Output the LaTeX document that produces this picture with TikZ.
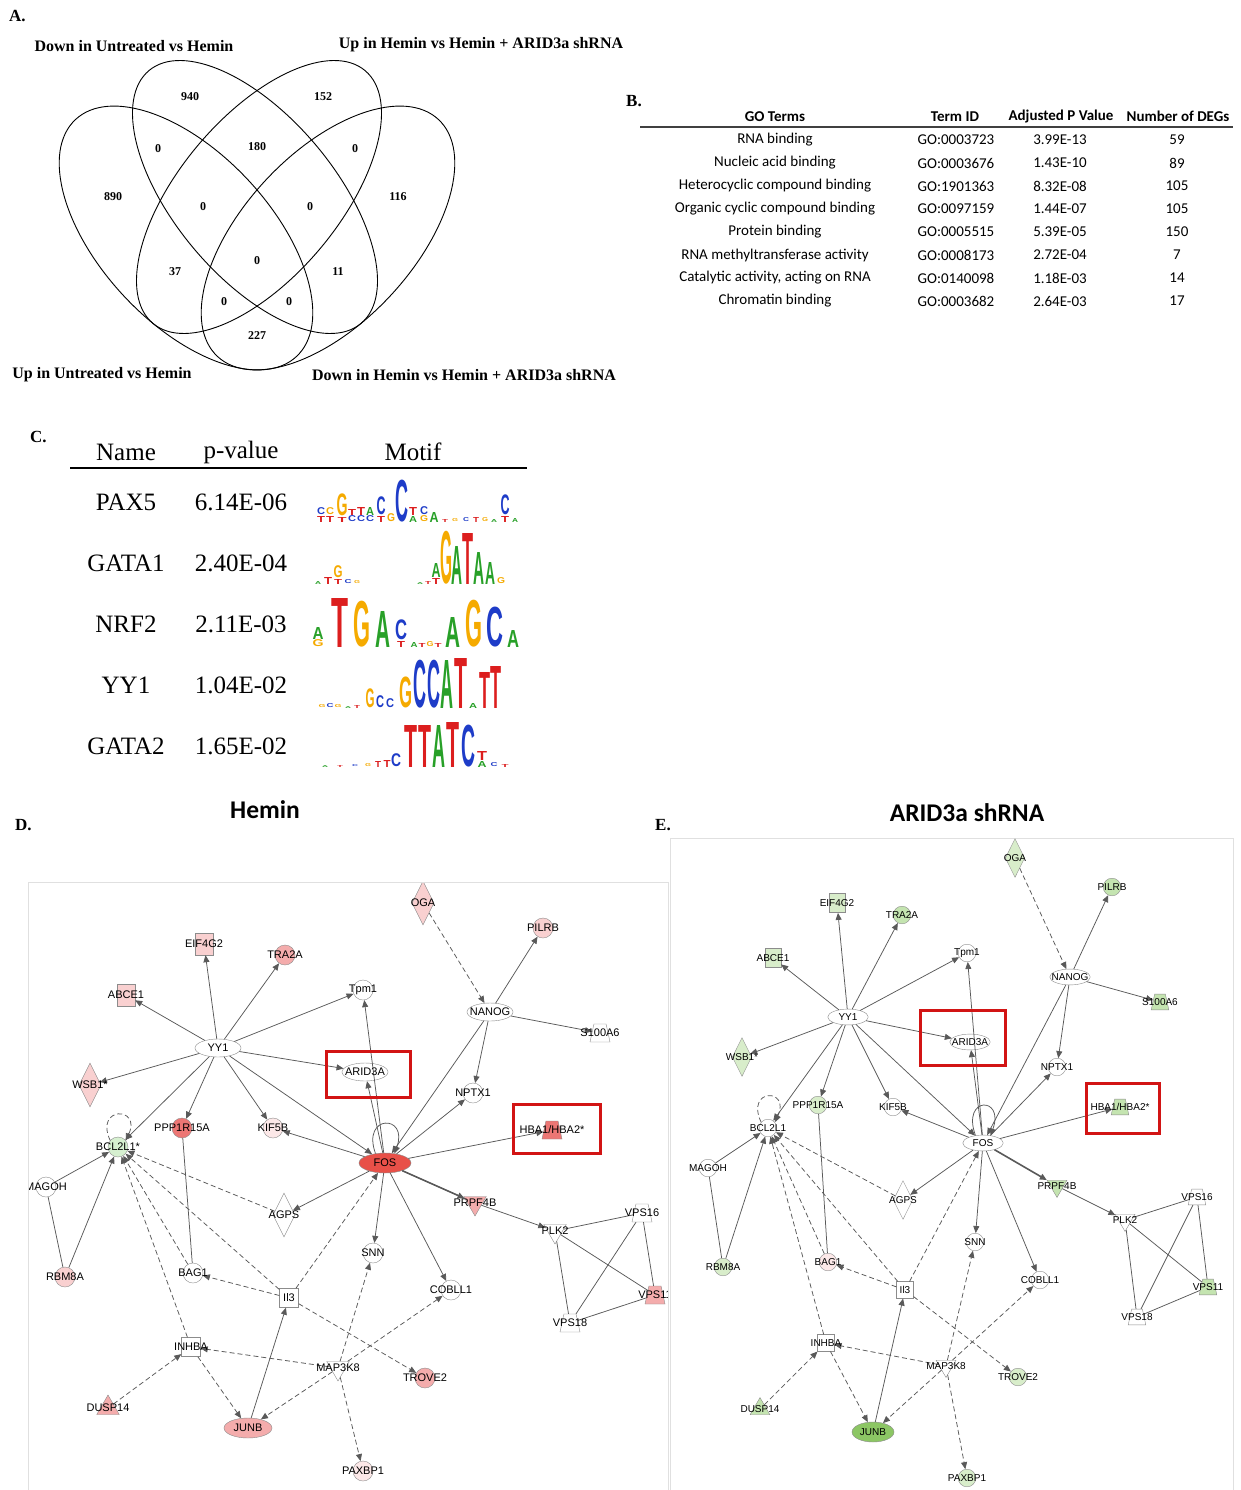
\documentclass[tikz,border=0pt]{standalone}
\usepackage{fontspec}
\usepackage{graphicx}
\setmainfont{Liberation Serif}
\setsansfont{Liberation Sans}
\newfontfamily\calfont{Carlito}
\usetikzlibrary{shapes.geometric,arrows.meta}
\definecolor{rS}{RGB}{232,80,72}
\definecolor{rM}{RGB}{236,118,116}
\definecolor{rL}{RGB}{244,172,172}
\definecolor{rX}{RGB}{249,208,208}
\definecolor{rW}{RGB}{252,232,232}
\definecolor{gS}{RGB}{140,198,100}
\definecolor{gL}{RGB}{196,228,176}
\definecolor{gX}{RGB}{216,237,202}
\definecolor{bclg}{RGB}{214,240,208}
\definecolor{lA}{RGB}{40,160,40}
\definecolor{lC}{RGB}{30,60,200}
\definecolor{lG}{RGB}{245,170,0}
\definecolor{lT}{RGB}{220,30,30}
\definecolor{boxred}{RGB}{210,20,20}
\newcounter{lgc}
\newcommand\ltr[6]{\stepcounter{lgc}\node[anchor=south,inner sep=0pt,outer sep=0pt,text=#6] (lg\arabic{lgc}) at (#1,#2) {\resizebox*{#3pt}{#4pt}{\sffamily\bfseries #5}};}
\newcommand\gn[5]{\node[#4,fill=#5] (#1) at (#2,#3) {};}
\newcommand\hbalab{HBA1/HBA2*}
\def\nsz{1}
\newcommand\netedges[1]{%
\foreach \a/\b in {YY1/EIF,YY1/TRA,YY1/ABC,YY1/WSB,YY1/TPM,YY1/ARI,YY1/PPP,YY1/KIF,YY1/BCL,YY1/FOS,FOS/TPM,FOS/ARI,FOS/NPT,FOS/HBA,FOS/KIF,FOS/AGP,FOS/SNN,FOS/COB,PRP/PLK,NAN/FOS,NAN/NPT,NAN/PIL,NAN/S10,MAG/BCL,RBM/BCL,JUN/IL3}{\draw[ed] (#1\a) -- (#1\b);}
\foreach \a/\b in {OGA/NAN,IL3/FOS,IL3/BAG,IL3/TRO,MAP/SNN,MAP/COB,MAP/JUN,MAP/PAX,MAP/INH,INH/JUN,DUS/INH,IL3/BCL,INH/BCL,BAG/BCL,AGP/BCL}{\draw[ed,dsh] (#1\a) -- (#1\b);}
\foreach \a/\b in {MAG/RBM,PPP/BAG,PLK/V16,PLK/V18,PLK/V11,V16/V18,V16/V11,V18/V11}{\draw[ln] (#1\a) -- (#1\b);}
\draw[ed,line width=1.6pt] (#1FOS) -- (#1PRP);
\draw[ed] (#1FOS.135) .. controls +(110:42pt) and +(70:42pt) .. (#1FOS.45);
\draw[ed,dsh] (#1BCL.140) .. controls +(115:38pt) and +(65:38pt) .. (#1BCL.40);
}
\begin{document}
\begin{tikzpicture}[x=1pt,y=-1pt,
  vn/.style={font=\bfseries\fontsize{12}{13}\selectfont,inner sep=0pt},
  vl/.style={font=\bfseries\fontsize{16}{18}\selectfont,inner sep=0pt},
  pl/.style={font=\bfseries\fontsize{17}{19}\selectfont,inner sep=0pt,anchor=west},
  tb/.style={font=\calfont\fontsize{15}{17}\selectfont,inner sep=0pt},
  tbh/.style={font=\calfont\bfseries\fontsize{15}{17}\selectfont,inner sep=0pt},
  mt/.style={font=\fontsize{25}{27}\selectfont,inner sep=0pt},
  ttl/.style={font=\calfont\bfseries\fontsize{25.5}{27}\selectfont,inner sep=0pt},
  circ/.style={circle,draw=black!45,inner sep=0pt,minimum size={20pt*\nsz}},
  ell/.style={ellipse,draw=black!45,inner sep=0pt,minimum width={46pt*\nsz},minimum height={18pt*\nsz}},
  dia/.style={diamond,draw=black!45,inner sep=0pt,minimum width={22pt*\nsz},minimum height={44pt*\nsz}},
  sqr/.style={rectangle,draw=black!45,inner sep=0pt,minimum size={19pt*\nsz}},
  trp/.style={trapezium,trapezium stretches=true,trapezium left angle=72,trapezium right angle=72,draw=black!45,inner sep=1pt,minimum width={20pt*\nsz},minimum height={18pt*\nsz}},
  itri/.style={regular polygon,regular polygon sides=3,shape border rotate=180,draw=black!45,inner sep=0pt,minimum size={26pt*\nsz}},
  tri/.style={regular polygon,regular polygon sides=3,draw=black!45,inner sep=0pt,minimum size={26pt*\nsz}},
  trl/.style={rectangle,draw=black!45,inner sep=0pt,minimum width={18pt*\nsz},minimum height={22pt*\nsz}},
  ed/.style={draw=black!65,line width=0.75pt,-{Triangle[length=7pt,width=6pt]}},
  ln/.style={draw=black!65,line width=0.75pt},
  dsh/.style={dash pattern=on 5pt off 3pt},
  lbl/.style={inner sep=0pt,font=\sffamily\fontsize{11}{12}\selectfont}]
\useasboundingbox[fill=white] (0,0) rectangle (1241,1490);

% ---------------- Panel A
\node[pl] (labA) at (9,16) {A.};
\node[vl] (va1) at (134,46) {Down in Untreated vs Hemin};
\node[vl] (va2) at (481,45) {Up in Hemin vs Hemin + ARID3a shRNA};
\node[vl] (va3) at (102,375) {Up in Untreated vs Hemin};
\node[vl] (va4) at (464,375) {Down in Hemin vs Hemin + ARID3a shRNA};
\begin{scope}[line width=0.9pt]
\draw[rotate around={-47:(186,238)}] (186,238) ellipse [x radius=162pt, y radius=85pt];
\draw[rotate around={-50:(255,197)}] (255,197) ellipse [x radius=165pt, y radius=80pt];
\draw[rotate around={50:(259,197)}] (259,197) ellipse [x radius=165pt, y radius=80pt];
\draw[rotate around={47:(328,238)}] (328,238) ellipse [x radius=162pt, y radius=85pt];
\end{scope}
\foreach \x/\y/\t [count=\i] in {190/97/940,323/97/152,158/149/0,257/147/180,355/149/0,113/197/890,203/207/0,310/207/0,398/197/116,175/272/37,257/261/0,338/272/11,224/302/0,289/302/0,257/336/227}
  {\node[vn] (vn\i) at (\x,\y) {\t};}

% ---------------- Panel B
\node[pl] (labB) at (626,101) {B.};
\node[tbh] (bh1) at (775,117) {GO Terms};
\node[tbh] (bh2) at (955,117) {Term ID};
\node[tbh] (bh3) at (1061,117) {Adjusted P Value};
\node[tbh] (bh4) at (1178,116) {Number of DEGs};
\draw[line width=1.6pt,black!75] (640,127) -- (1233,127);
\foreach \i/\t/\g/\p/\n in {0/RNA binding/GO:0003723/3.99E-13/59,1/Nucleic acid binding/GO:0003676/1.43E-10/89,2/Heterocyclic compound binding/GO:1901363/8.32E-08/105,3/Organic cyclic compound binding/GO:0097159/1.44E-07/105,4/Protein binding/GO:0005515/5.39E-05/150,5/RNA methyltransferase activity/GO:0008173/2.72E-04/7,6/{Catalytic activity, acting on RNA}/GO:0140098/1.18E-03/14,7/Chromatin binding/GO:0003682/2.64E-03/17}
{\node[tb] (bt\i) at (775,140+23*\i) {\t};
 \node[tb] (bg\i) at (956,140+23*\i) {\g};
 \node[tb] (bp\i) at (1060,140+23*\i) {\p};
 \node[tb] (bn\i) at (1177,140+23*\i) {\n};}

% ---------------- Panel C
\node[pl] (labC) at (30,437) {C.};
\node[mt] (ch1) at (126,452) {Name};
\node[mt] (ch2) at (241,452) {p-value};
\node[mt] (ch3) at (413,452) {Motif};
\draw[line width=2.6pt] (70,468) -- (527,468);
\foreach \i/\n/\p in {0/PAX5/6.14E-06,1/GATA1/2.40E-04,2/NRF2/2.11E-03,3/YY1/1.04E-02,4/GATA2/1.65E-02}
{\node[mt] (cn\i) at (126,502+61*\i) {\n};
 \node[mt] (cp\i) at (241,502+61*\i) {\p};}
% PAX5
\ltr{321}{522}{8}{6}{T}{lT}\ltr{321}{515}{8}{7}{C}{lC}
\ltr{330}{522}{8}{6}{T}{lT}\ltr{330}{515}{8}{7}{C}{lG}
\ltr{342}{522}{9}{5}{T}{lT}\ltr{342}{516}{11}{22}{G}{lG}
\ltr{352}{522}{8}{6}{C}{lC}\ltr{352}{515}{8}{6}{T}{lT}
\ltr{361}{522}{8}{6}{C}{lC}\ltr{361}{515}{8}{8}{T}{lT}
\ltr{370}{522}{8}{6}{C}{lC}\ltr{370}{515}{8}{8}{A}{lA}
\ltr{381}{522}{8}{6}{T}{lT}\ltr{381}{515}{9}{18}{C}{lC}
\ltr{391}{522}{8}{8}{G}{lG}
\ltr{402}{522}{13}{42}{C}{lC}
\ltr{413}{522}{8}{6}{A}{lA}\ltr{413}{515}{8}{8}{T}{lT}
\ltr{424}{522}{8}{6}{G}{lG}\ltr{424}{515}{8}{8}{C}{lC}
\ltr{434}{522}{9}{10}{A}{lA}
\ltr{445}{522}{6}{3}{T}{lT}\ltr{455}{522}{6}{3}{G}{lG}\ltr{466}{522}{6}{4}{C}{lC}\ltr{476}{522}{6}{5}{T}{lT}\ltr{485}{522}{6}{4}{G}{lG}\ltr{494}{522}{6}{3}{A}{lA}
\ltr{505}{522}{8}{6}{T}{lT}\ltr{505}{515}{9}{20}{C}{lC}
\ltr{515}{522}{6}{4}{A}{lA}
% GATA1
\ltr{318}{584}{6}{3}{A}{lA}\ltr{328}{584}{8}{7}{T}{lT}\ltr{338}{584}{8}{5}{T}{lT}\ltr{338}{578}{9}{12}{G}{lG}\ltr{348}{584}{7}{4}{C}{lC}\ltr{357}{584}{6}{3}{G}{lG}
\ltr{420}{584}{6}{2}{A}{lA}\ltr{428}{584}{6}{3}{T}{lT}
\ltr{436}{584}{8}{6}{T}{lT}\ltr{436}{577}{9}{14}{A}{lA}
\ltr{446}{584}{12}{53}{G}{lG}
\ltr{457}{584}{11}{38}{A}{lA}
\ltr{468}{584}{11}{51}{T}{lT}
\ltr{479}{584}{11}{32}{A}{lA}
\ltr{490}{584}{10}{22}{A}{lA}
\ltr{501}{584}{8}{6}{G}{lG}
% NRF2
\ltr{318}{647}{11}{7}{G}{lG}\ltr{318}{639}{11}{12}{A}{lA}
\ltr{340}{647}{17}{49}{T}{lT}
\ltr{362}{647}{17}{46}{G}{lG}
\ltr{383}{647}{15}{36}{A}{lA}
\ltr{401}{647}{8}{6}{T}{lT}\ltr{401}{640}{12}{20}{C}{lC}
\ltr{414}{647}{7}{5}{A}{lA}\ltr{422}{647}{7}{4}{T}{lT}\ltr{430}{647}{7}{5}{G}{lG}\ltr{438}{647}{7}{4}{T}{lT}
\ltr{453}{647}{15}{30}{A}{lA}
\ltr{474}{647}{17}{47}{G}{lG}
\ltr{495}{647}{17}{40}{C}{lC}
\ltr{513}{647}{12}{17}{A}{lA}
% YY1
\ltr{322}{708}{7}{3}{G}{lG}\ltr{330}{708}{7}{4}{C}{lC}\ltr{338}{708}{7}{3}{G}{lG}\ltr{348}{708}{6}{2}{A}{lA}\ltr{357}{708}{6}{3}{T}{lT}
\ltr{370}{708}{9}{19}{G}{lG}
\ltr{380}{708}{8}{12}{C}{lC}
\ltr{390}{708}{8}{9}{C}{lC}
\ltr{406}{708}{13}{31}{G}{lG}
\ltr{420}{708}{13}{48}{C}{lC}
\ltr{434}{708}{13}{48}{C}{lC}
\ltr{447}{708}{13}{48}{A}{lA}
\ltr{461}{708}{13}{50}{T}{lT}
\ltr{473}{708}{8}{5}{A}{lA}
\ltr{485}{708}{11}{36}{T}{lT}
\ltr{496}{708}{11}{42}{T}{lT}
% GATA2
\ltr{325}{767}{6}{2}{A}{lA}\ltr{340}{767}{6}{2}{T}{lT}\ltr{355}{767}{6}{2}{C}{lC}\ltr{368}{767}{6}{3}{G}{lG}
\ltr{378}{767}{6}{6}{T}{lT}\ltr{387}{767}{7}{7}{T}{lT}
\ltr{396}{767}{10}{13}{C}{lC}
\ltr{411}{767}{13}{42}{T}{lT}
\ltr{425}{767}{13}{42}{T}{lT}
\ltr{439}{767}{13}{42}{A}{lA}
\ltr{453}{767}{13}{45}{T}{lT}
\ltr{468}{767}{14}{42}{C}{lC}
\ltr{482}{767}{9}{6}{A}{lA}\ltr{482}{760}{10}{9}{T}{lT}
\ltr{494}{767}{7}{4}{C}{lC}\ltr{505}{767}{7}{3}{T}{lT}

% ---------------- Panel D
\node[pl] (labD) at (15,825) {D.};
\node[ttl] (ttlD) at (265,810) {Hemin};
\draw[black!12] (28,1490) -- (28,882) -- (668,882) -- (668,1490);
\begin{scope}
\clip (29,883) rectangle (667,1490);
\gn{dEIF}{204}{944}{trl}{rX}
\gn{dTRA}{285}{955}{circ}{rL}
\gn{dABC}{126}{995}{trl}{rX}
\gn{dYY1}{218}{1048}{ell}{white}
\gn{dWSB}{90}{1085}{dia}{rX}
\gn{dTPM}{363}{990}{circ}{white}
\gn{dNAN}{490}{1012}{ell}{white}
\gn{dPIL}{543}{928}{circ}{rX}
\gn{dOGA}{423}{903}{dia}{rX}
\gn{dS10}{600}{1033}{trp}{white}
\gn{dARI}{365}{1072}{ell}{white}
\gn{dNPT}{473}{1093}{circ}{white}
\gn{dHBA}{552}{1130}{trp}{rM}
\node[ellipse,draw=black!45,fill=rS,inner sep=0pt,minimum width=52pt,minimum height=20pt] (dFOS) at (385,1163) {};
\gn{dPPP}{182}{1128}{circ}{rM}
\gn{dKIF}{273}{1128}{circ}{rW}
\gn{dBCL}{118}{1147}{circ}{bclg}
\gn{dMAG}{46}{1187}{circ}{white}
\gn{dRBM}{65}{1277}{circ}{rX}
\gn{dAGP}{284}{1215}{dia}{white}
\gn{dPRP}{475}{1203}{itri}{rL}
\gn{dPLK}{555}{1231}{itri}{white}
\gn{dV16}{642}{1213}{trp}{white}
\gn{dV11}{655}{1295}{trp}{rL}
\gn{dV18}{570}{1323}{trp}{white}
\gn{dSNN}{373}{1253}{circ}{white}
\gn{dBAG}{193}{1273}{circ}{white}
\gn{dIL3}{289}{1298}{sqr}{white}
\gn{dCOB}{451}{1290}{circ}{white}
\gn{dINH}{191}{1347}{sqr}{white}
\gn{dMAP}{338}{1368}{itri}{white}
\gn{dTRO}{425}{1378}{circ}{rL}
\gn{dDUS}{108}{1408}{tri}{rL}
\node[ellipse,draw=black!45,fill=rL,inner sep=0pt,minimum width=48pt,minimum height=20pt] (dJUN) at (248,1428) {};
\gn{dPAX}{363}{1471}{circ}{rW}
\netedges{d}
\foreach \n/\t in {dEIF/EIF4G2,dTRA/TRA2A,dABC/ABCE1,dYY1/YY1,dWSB/WSB1*,dTPM/Tpm1,dNAN/NANOG,dPIL/PILRB,dOGA/OGA,dS10/S100A6,dARI/ARID3A,dNPT/NPTX1,dHBA/\hbalab,dFOS/FOS,dPPP/PPP1R15A,dKIF/KIF5B,dBCL/BCL2L1*,dMAG/MAGOH,dRBM/RBM8A,dAGP/AGPS,dPRP/PRPF4B,dPLK/PLK2,dV16/VPS16,dV11/VPS11,dV18/VPS18,dSNN/SNN,dBAG/BAG1,dIL3/Il3,dCOB/COBLL1,dINH/INHBA,dMAP/MAP3K8,dTRO/TROVE2,dDUS/DUSP14,dJUN/JUNB,dPAX/PAXBP1}
 {\node[lbl] (\n-t) at (\n) {\t};}
\end{scope}
\draw[boxred,line width=3pt] (326,1051) rectangle (410,1097);
\draw[boxred,line width=3pt] (513,1104) rectangle (600,1153);

% ---------------- Panel E
\node[pl] (labE) at (655,825) {E.};
\node[ttl] (ttlE) at (967,813) {ARID3a shRNA};
\draw[black!12] (670,1490) -- (670,838) -- (1233,838) -- (1233,1490);
\begin{scope}[lbl/.style={inner sep=0pt,font=\sffamily\fontsize{10}{11}\selectfont}]
\def\nsz{0.88}
\gn{eEIF}{837}{903}{trl}{gX}
\gn{eTRA}{902}{915}{circ}{gL}
\gn{eABC}{773}{958}{trl}{gX}
\gn{eTPM}{967}{953}{circ}{white}
\gn{eYY1}{848}{1017}{ell}{white}
\gn{eARI}{970}{1042}{ell}{white}
\gn{eWSB}{742}{1057}{dia}{gX}
\gn{ePPP}{818}{1105}{circ}{gX}
\gn{eKIF}{893}{1107}{circ}{white}
\gn{eBCL}{768}{1128}{circ}{white}
\gn{eMAG}{708}{1168}{circ}{white}
\gn{eFOS}{983}{1143}{ell}{white}
\gn{eOGA}{1015}{858}{dia}{gX}
\gn{ePIL}{1112}{887}{circ}{gL}
\gn{eNAN}{1070}{977}{ell}{white}
\gn{eS10}{1160}{1002}{trp}{gL}
\gn{eNPT}{1057}{1067}{circ}{white}
\gn{eHBA}{1120}{1107}{trp}{gL}
\gn{ePRP}{1057}{1186}{itri}{gL}
\gn{eAGP}{903}{1200}{dia}{white}
\gn{eV16}{1197}{1197}{trp}{white}
\gn{ePLK}{1125}{1220}{itri}{white}
\gn{eSNN}{975}{1242}{circ}{white}
\gn{eRBM}{723}{1267}{circ}{gX}
\gn{eBAG}{828}{1262}{circ}{rW}
\gn{eIL3}{905}{1290}{sqr}{white}
\gn{eCOB}{1040}{1280}{circ}{white}
\gn{eV11}{1208}{1287}{trp}{gL}
\gn{eV18}{1137}{1317}{trp}{white}
\gn{eINH}{826}{1343}{sqr}{white}
\gn{eMAP}{946}{1366}{itri}{white}
\gn{eTRO}{1018}{1377}{circ}{gX}
\gn{eDUS}{760}{1409}{tri}{gL}
\node[ellipse,draw=black!45,fill=gS,inner sep=0pt,minimum width=42pt,minimum height=20pt] (eJUN) at (873,1432) {};
\gn{ePAX}{967}{1478}{circ}{gX}
\netedges{e}
\foreach \n/\t in {eEIF/EIF4G2,eTRA/TRA2A,eABC/ABCE1,eYY1/YY1,eWSB/WSB1*,eTPM/Tpm1,eNAN/NANOG,ePIL/PILRB,eOGA/OGA,eS10/S100A6,eARI/ARID3A,eNPT/NPTX1,eHBA/\hbalab,eFOS/FOS,ePPP/PPP1R15A,eKIF/KIF5B,eBCL/BCL2L1,eMAG/MAGOH,eRBM/RBM8A,eAGP/AGPS,ePRP/PRPF4B,ePLK/PLK2,eV16/VPS16,eV11/VPS11,eV18/VPS18,eSNN/SNN,eBAG/BAG1,eIL3/Il3,eCOB/COBLL1,eINH/INHBA,eMAP/MAP3K8,eTRO/TROVE2,eDUS/DUSP14,eJUN/JUNB,ePAX/PAXBP1}
 {\node[lbl] (\n-t) at (\n) {\t};}
\end{scope}
\draw[boxred,line width=3pt] (920,1010) rectangle (1005,1065);
\draw[boxred,line width=3pt] (1086,1083) rectangle (1159,1133);
\end{tikzpicture}
\end{document}
